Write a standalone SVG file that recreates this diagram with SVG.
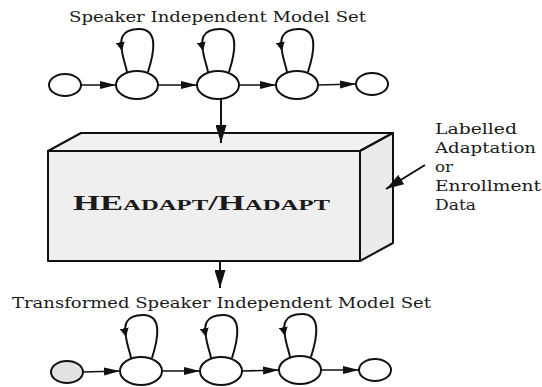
<svg xmlns="http://www.w3.org/2000/svg" width="542" height="387" viewBox="0 0 542 387">
<style>
  .st { fill: #fff; stroke: #111; stroke-width: 2; }
  .entry2 { fill: #e2e2e2; stroke: #111; stroke-width: 2; }
  .ln { fill: none; stroke: #111; stroke-width: 1.6; }
  .lp { fill: none; stroke: #111; stroke-width: 2; }
  .t { font-family: "DejaVu Serif", "Liberation Serif", serif; fill: #1a1a1a; }
  .box { stroke: #111; stroke-width: 2; stroke-linejoin: round; }
</style>
<defs>
  <marker id="ah" markerUnits="userSpaceOnUse" markerWidth="17" markerHeight="9" refX="16" refY="4.5" orient="auto">
    <path d="M0,0.5 L16,4.5 L0,8.5 z" fill="#111"/>
  </marker>
  <marker id="av" markerUnits="userSpaceOnUse" markerWidth="19" markerHeight="11" refX="18" refY="5.5" orient="auto">
    <path d="M0,0 L18,5.5 L0,11 z" fill="#111"/>
  </marker>
  <marker id="al" markerUnits="userSpaceOnUse" markerWidth="10" markerHeight="9" refX="9" refY="4.5" orient="auto">
    <path d="M0,0 L9,4.5 L0,9 z" fill="#111"/>
  </marker>
  <path id="loopA" d="M11,1 C17,-18 22,-42 2,-42 C-17,-42 -17,-30 -15,-20"/>
  <path id="loopB" d="M-15,-20 C-14,-12 -11,-5 -10,1"/>
</defs>
<rect width="542" height="387" fill="#fff"/>

<text class="t" x="69" y="22" font-size="14" textLength="297" lengthAdjust="spacingAndGlyphs">Speaker Independent Model Set</text>
<text class="t" x="12" y="308" font-size="14" textLength="419" lengthAdjust="spacingAndGlyphs">Transformed Speaker Independent Model Set</text>

<g id="labels">
  <text class="t" x="435" y="134" font-size="15.5" textLength="82" lengthAdjust="spacingAndGlyphs">Labelled</text>
  <text class="t" x="435" y="153" font-size="15.5" textLength="101" lengthAdjust="spacingAndGlyphs">Adaptation</text>
  <text class="t" x="435" y="172" font-size="15.5" textLength="18" lengthAdjust="spacingAndGlyphs">or</text>
  <text class="t" x="435" y="191" font-size="15.5" textLength="106" lengthAdjust="spacingAndGlyphs">Enrollment</text>
  <text class="t" x="435" y="210" font-size="15.5" textLength="41" lengthAdjust="spacingAndGlyphs">Data</text>
</g>

<g id="box">
  <polygon class="box" points="48,151 81,133 393,133 360,151" fill="#f1f1f1"/>
  <polygon class="box" points="360,151 393,133 393,243 360,261" fill="#ebebeb"/>
  <rect class="box" x="48" y="151" width="312" height="110" fill="#efefef"/>
  <text x="73" y="210" font-family="'Liberation Serif', 'DejaVu Serif', serif" font-weight="bold" fill="#1a1a1a" textLength="257" lengthAdjust="spacingAndGlyphs"><tspan font-size="21">HE</tspan><tspan font-size="15">ADAPT</tspan><tspan font-size="21">/H</tspan><tspan font-size="15">ADAPT</tspan></text>
</g>

<g id="top-entry"><ellipse class="st" cx="65" cy="85" rx="16" ry="11"/></g>
<g id="top-s1"><ellipse class="st" cx="137" cy="85" rx="21" ry="14"/></g>
<g id="top-s2"><ellipse class="st" cx="218" cy="85" rx="21" ry="14"/></g>
<g id="top-s3"><ellipse class="st" cx="297" cy="85" rx="21" ry="14"/></g>
<g id="top-exit"><ellipse class="st" cx="372" cy="84" rx="16" ry="11"/></g>

<g id="bot-entry"><ellipse class="entry2" cx="67" cy="372" rx="16" ry="11"/></g>
<g id="bot-s1"><ellipse class="st" cx="141" cy="371" rx="21" ry="14"/></g>
<g id="bot-s2"><ellipse class="st" cx="221" cy="371" rx="21" ry="14"/></g>
<g id="bot-s3"><ellipse class="st" cx="300" cy="370" rx="21" ry="14"/></g>
<g id="bot-exit"><ellipse class="st" cx="375" cy="370" rx="16" ry="11"/></g>

<g id="connectors">
  <line class="ln" x1="81" y1="85" x2="116" y2="85" marker-end="url(#ah)"/>
  <line class="ln" x1="158" y1="85" x2="197" y2="85" marker-end="url(#ah)"/>
  <line class="ln" x1="239" y1="85" x2="276" y2="85" marker-end="url(#ah)"/>
  <line class="ln" x1="318" y1="85" x2="356" y2="84" marker-end="url(#ah)"/>
  <g transform="translate(137,71)"><use href="#loopA" class="lp" marker-end="url(#al)"/><use href="#loopB" class="lp"/></g>
  <g transform="translate(218,71)"><use href="#loopA" class="lp" marker-end="url(#al)"/><use href="#loopB" class="lp"/></g>
  <g transform="translate(297,71)"><use href="#loopA" class="lp" marker-end="url(#al)"/><use href="#loopB" class="lp"/></g>
  <line class="ln" x1="83" y1="372" x2="120" y2="371" marker-end="url(#ah)"/>
  <line class="ln" x1="162" y1="371" x2="200" y2="371" marker-end="url(#ah)"/>
  <line class="ln" x1="242" y1="371" x2="279" y2="370" marker-end="url(#ah)"/>
  <line class="ln" x1="321" y1="370" x2="359" y2="370" marker-end="url(#ah)"/>
  <g transform="translate(141,357)"><use href="#loopA" class="lp" marker-end="url(#al)"/><use href="#loopB" class="lp"/></g>
  <g transform="translate(221,357)"><use href="#loopA" class="lp" marker-end="url(#al)"/><use href="#loopB" class="lp"/></g>
  <g transform="translate(300,356)"><use href="#loopA" class="lp" marker-end="url(#al)"/><use href="#loopB" class="lp"/></g>
  <line class="lp" x1="221" y1="99" x2="221" y2="143" marker-end="url(#av)"/>
  <line class="lp" x1="220" y1="261" x2="220" y2="288" marker-end="url(#av)"/>
  <line class="lp" x1="425" y1="165" x2="386" y2="189" marker-end="url(#av)"/>
</g>
</svg>
